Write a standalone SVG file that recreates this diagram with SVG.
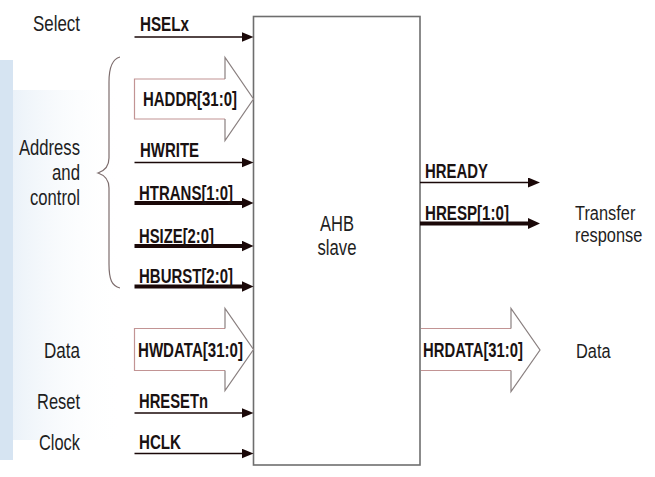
<svg xmlns="http://www.w3.org/2000/svg" width="655" height="477" viewBox="0 0 655 477">
  <defs>
    <style>
      .lbl { font-family: "Liberation Sans", Arial, sans-serif; font-size: 21.5px; fill: #1e1e1e; }
      .rlbl { font-family: "Liberation Sans", Arial, sans-serif; font-size: 21px; fill: #1e1e1e; }
      .sig { font-family: "Liberation Sans", Arial, sans-serif; font-size: 19.5px; font-weight: bold; fill: #1a1212; }
      .thin { stroke: #1a0808; stroke-width: 1.5; fill: none; }
      .thick { stroke: #1a0808; stroke-width: 4.2; fill: none; }
      .busbody { fill: none; stroke: #c29494; stroke-width: 1.2; }
      .bushead { fill: none; stroke: #8a8080; stroke-width: 1.2; }
      .busfill { fill: #ffffff; stroke: none; }
      .brace { fill: none; stroke: #7d6d6d; stroke-width: 1.2; }
      .box { fill: #ffffff; stroke: #6e6e6e; stroke-width: 1.6; }
    </style>
    <marker id="arrThin" viewBox="0 0 12 10" refX="4" refY="5" markerWidth="12" markerHeight="10" markerUnits="userSpaceOnUse" orient="auto">
      <path d="M0,0 L12,5 L0,10 z" fill="#1a0808"/>
    </marker>
    <marker id="arrThick" viewBox="0 0 12 11" refX="4" refY="5.5" markerWidth="12" markerHeight="11" markerUnits="userSpaceOnUse" orient="auto">
      <path d="M0,0 L12,5.5 L0,11 z" fill="#1a0808"/>
    </marker>
    <linearGradient id="bgl" x1="0" y1="0" x2="1" y2="0">
      <stop offset="0" stop-color="#d3e2f1"/>
      <stop offset="1" stop-color="#ffffff" stop-opacity="0"/>
    </linearGradient>
  </defs>

  <rect x="0" y="0" width="655" height="477" fill="#ffffff"/>
  <rect x="0" y="60" width="13" height="400" fill="#d6e4f2"/>
  <rect x="13" y="90" width="110" height="350" fill="url(#bgl)" opacity="0.45"/>

  <!-- AHB slave block -->
  <g id="ahb-slave">
    <rect class="box" x="253.5" y="16.5" width="166.5" height="448.5"/>
    <text class="lbl" x="337" y="231" text-anchor="middle" textLength="34" lengthAdjust="spacingAndGlyphs">AHB</text>
    <text class="lbl" x="337" y="255" text-anchor="middle" textLength="39" lengthAdjust="spacingAndGlyphs">slave</text>
  </g>

  <!-- group labels -->
  <g id="label-select">
    <text class="lbl" x="80" y="31" text-anchor="end" textLength="47" lengthAdjust="spacingAndGlyphs">Select</text>
  </g>
  <g id="label-address-control">
    <text class="lbl" x="80" y="155" text-anchor="end" textLength="61" lengthAdjust="spacingAndGlyphs">Address</text>
    <text class="lbl" x="80" y="180" text-anchor="end" textLength="28" lengthAdjust="spacingAndGlyphs">and</text>
    <text class="lbl" x="80" y="205" text-anchor="end" textLength="50" lengthAdjust="spacingAndGlyphs">control</text>
    <path class="brace" d="M120,57 C112,59 109,68 109,82 L109,158 C109,166 104,171 98,173 C104,175 109,180 109,188 L109,264 C109,280 112,286 120,288"/>
  </g>
  <g id="label-data-in">
    <text class="lbl" x="80" y="358" text-anchor="end" textLength="36" lengthAdjust="spacingAndGlyphs">Data</text>
  </g>
  <g id="label-reset">
    <text class="lbl" x="80" y="409" text-anchor="end" textLength="43" lengthAdjust="spacingAndGlyphs">Reset</text>
  </g>
  <g id="label-clock">
    <text class="lbl" x="80" y="450" text-anchor="end" textLength="41" lengthAdjust="spacingAndGlyphs">Clock</text>
  </g>
  <g id="label-transfer-response" transform="translate(575,0) scale(0.78,1)">
    <text class="rlbl" x="0" y="220">Transfer</text>
    <text class="rlbl" x="0" y="242">response</text>
  </g>
  <g id="label-data-out" transform="translate(576,0) scale(0.78,1)">
    <text class="rlbl" x="0" y="358">Data</text>
  </g>

  <!-- connectors -->
  <g id="connectors">
    <!-- HSELx -->
    <line class="thin" x1="134.5" y1="37" x2="245.5" y2="37" marker-end="url(#arrThin)"/>
    <!-- HADDR bus -->
    <path class="busfill" d="M134.5,79 L225,79 L225,57.5 L253.5,99 L225,140.5 L225,119 L134.5,119 z"/>
    <path class="busbody" d="M225,79 L134.5,79 L134.5,119 L225,119"/>
    <path class="bushead" d="M225,119 L225,140.5 L253.5,99 L225,57.5 L225,79"/>
    <!-- HWRITE -->
    <line class="thin" x1="134.5" y1="162.5" x2="245.5" y2="162.5" marker-end="url(#arrThin)"/>
    <!-- HTRANS -->
    <line class="thick" x1="134.5" y1="203" x2="245.5" y2="203" marker-end="url(#arrThick)"/>
    <!-- HSIZE -->
    <line class="thick" x1="134.5" y1="246" x2="245.5" y2="246" marker-end="url(#arrThick)"/>
    <!-- HBURST -->
    <line class="thick" x1="134.5" y1="286.5" x2="245.5" y2="286.5" marker-end="url(#arrThick)"/>
    <!-- HWDATA bus -->
    <path class="busfill" d="M134.5,328.5 L225,328.5 L225,308.5 L253.5,349.5 L225,390.5 L225,370.5 L134.5,370.5 z"/>
    <path class="busbody" d="M225,328.5 L134.5,328.5 L134.5,370.5 L225,370.5"/>
    <path class="bushead" d="M225,370.5 L225,390.5 L253.5,349.5 L225,308.5 L225,328.5"/>
    <!-- HRESETn -->
    <line class="thin" x1="134.5" y1="413" x2="245.5" y2="413" marker-end="url(#arrThin)"/>
    <!-- HCLK -->
    <line class="thin" x1="134.5" y1="453.5" x2="245.5" y2="453.5" marker-end="url(#arrThin)"/>
    <!-- HREADY -->
    <line class="thin" x1="420" y1="182.5" x2="532" y2="182.5" marker-end="url(#arrThin)"/>
    <!-- HRESP -->
    <line class="thick" x1="420" y1="223.5" x2="532" y2="223.5" marker-end="url(#arrThick)"/>
    <!-- HRDATA bus -->
    <path class="busfill" d="M421,328.5 L511,328.5 L511,308.5 L540,350 L511,391.5 L511,370.5 L421,370.5 z"/>
    <path class="busbody" d="M421,328.5 L511,328.5 M421,370.5 L511,370.5"/>
    <path class="bushead" d="M511,370.5 L511,391.5 L540,350 L511,308.5 L511,328.5"/>
  </g>

  <!-- signal labels -->
  <g id="sig-hselx"><text class="sig" x="140" y="31" textLength="49" lengthAdjust="spacingAndGlyphs">HSELx</text></g>
  <g id="sig-haddr"><text class="sig" x="143" y="106" textLength="94" lengthAdjust="spacingAndGlyphs">HADDR[31:0]</text></g>
  <g id="sig-hwrite"><text class="sig" x="140" y="157" textLength="59" lengthAdjust="spacingAndGlyphs">HWRITE</text></g>
  <g id="sig-htrans"><text class="sig" x="139" y="200" textLength="94" lengthAdjust="spacingAndGlyphs">HTRANS[1:0]</text></g>
  <g id="sig-hsize"><text class="sig" x="139" y="243" textLength="75" lengthAdjust="spacingAndGlyphs">HSIZE[2:0]</text></g>
  <g id="sig-hburst"><text class="sig" x="139" y="283" textLength="94" lengthAdjust="spacingAndGlyphs">HBURST[2:0]</text></g>
  <g id="sig-hwdata"><text class="sig" x="138" y="357" textLength="105" lengthAdjust="spacingAndGlyphs">HWDATA[31:0]</text></g>
  <g id="sig-hresetn"><text class="sig" x="139" y="408" textLength="69" lengthAdjust="spacingAndGlyphs">HRESETn</text></g>
  <g id="sig-hclk"><text class="sig" x="139" y="449" textLength="42" lengthAdjust="spacingAndGlyphs">HCLK</text></g>
  <g id="sig-hready"><text class="sig" x="425" y="178" textLength="63" lengthAdjust="spacingAndGlyphs">HREADY</text></g>
  <g id="sig-hresp"><text class="sig" x="425" y="220" textLength="84" lengthAdjust="spacingAndGlyphs">HRESP[1:0]</text></g>
  <g id="sig-hrdata"><text class="sig" x="423" y="357" textLength="100" lengthAdjust="spacingAndGlyphs">HRDATA[31:0]</text></g>
</svg>
